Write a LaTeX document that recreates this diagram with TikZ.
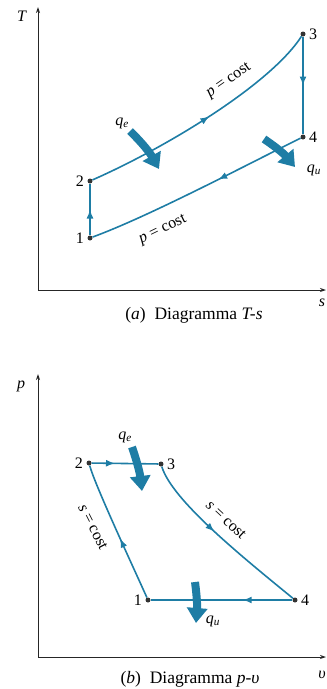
\documentclass[tikz,border=0pt]{standalone}
\usepackage{fontspec}
\setmainfont{Liberation Serif}
\usetikzlibrary{arrows.meta,decorations.markings}
\definecolor{ciclo}{RGB}{30,125,165}
\newcommand{\qq}[1]{\textit{q}\textsubscript{\textit{#1}}}
\tikzset{
  punto/.style={circle,fill=black!80,inner sep=0pt,minimum size=5pt},
  linea/.style={ciclo,line width=1.6pt},
  freccia/.style={postaction={decorate},decoration={markings,
    mark=at position #1 with {\arrow{Latex[length=9pt,width=7pt]}}}},
  freccia/.default=0.5,
  calore/.style={ciclo,line width=8pt,-{Triangle[length=15pt,width=20pt]}},
  asse/.style={black!85,line width=0.9pt,-{Stealth[length=6pt,width=4pt]}},
  didascalia/.style={font=\fontsize{17.5}{20}\selectfont}
}
\begin{document}
\begin{tikzpicture}[x=1pt,y=-1pt,font=\fontsize{16}{18}\selectfont]
\useasboundingbox (0,0) rectangle (327,689);
% (a) diagramma T-s
\coordinate (oa) at (38,290);
\draw [asse] (oa) -- (38,7) coordinate (Ta);
\draw [asse] (oa) -- (326,290) coordinate (sa);
\node at (22,16) {\textit{T}};
\node at (322,303) {\textit{s}};
\node [punto,label={left:1}] (a1) at (90,238) {};
\node [punto,label={left:2}] (a2) at (90,181) {};
\node [punto,label={right:3}] (a3) at (303,34) {};
\node [punto,label={right:4}] (a4) at (303,137) {};
\draw [linea,freccia] (a1) -- (a2);
\draw [linea,freccia=0.52] (a2) .. controls (165,148) and (270,85) .. (a3);
\draw [linea,freccia] (a3) -- (a4);
\draw [linea,freccia=0.4] (a4) .. controls (250,163) and (150,216) .. (a1);
\node [rotate=35] at (229,81) {\textit{p} = cost};
\node [rotate=26] at (163,230) {\textit{p} = cost};
\coordinate (qea) at (130,131);
\coordinate (qua) at (264,139);
\draw [calore] (qea) to[bend left=8] (159,169);
\draw [calore] (qua) to[bend left=8] (295,167);
\node at (122,123) {\qq{e}};
\node at (314,170) {\qq{u}};
\node [didascalia] at (194,315) {(\textit{a})~ Diagramma \textit{T-s}};
% (b) diagramma p-v
\coordinate (ob) at (38,657);
\draw [asse] (ob) -- (38,374) coordinate (pb);
\draw [asse] (ob) -- (326,657) coordinate (vb);
\node at (21,386) {\textit{p}};
\node at (322,675) {\textit{υ}};
\node [punto,label={left:1}] (b1) at (148,600) {};
\node [punto,label={left:2}] (b2) at (89,463) {};
\node [punto,label={right:3}] (b3) at (161,464) {};
\node [punto,label={right:4}] (b4) at (295,600) {};
\draw [linea,freccia=0.35] (b2) -- (b3);
\draw [linea,freccia=0.45] (b3) .. controls (172,500) and (240,555) .. (b4);
\draw [linea,freccia=0.35] (b4) -- (b1);
\draw [linea,freccia=0.45] (b1) .. controls (130,560) and (95,485) .. (b2);
\node [rotate=-63] at (93,527) {\textit{s} = cost};
\node [rotate=-43] at (226,520) {\textit{s} = cost};
\coordinate (qeb) at (132,447);
\coordinate (qub) at (195,582);
\draw [calore] (qeb) to[bend left=6] (142,491);
\draw [calore] (qub) to[bend left=6] (196,623);
\node at (125,437) {\qq{e}};
\node at (213,621) {\qq{u}};
\node [didascalia] at (190,679) {(\textit{b})~ Diagramma \textit{p-υ}};
\end{tikzpicture}
\end{document}
